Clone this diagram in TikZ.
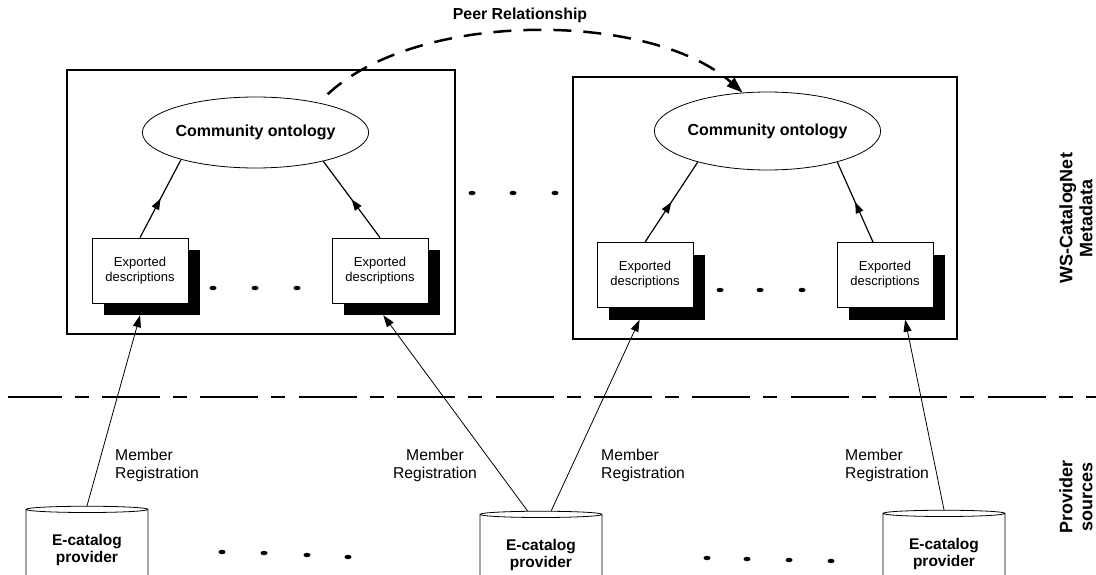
\documentclass[tikz,border=0pt]{standalone}
\usepackage{fontspec}
\setmainfont{Liberation Sans}
\usetikzlibrary{arrows.meta,calc,shapes.geometric,decorations.markings}
\newcommand{\descw}{96pt}
\newcommand{\desch}{65pt}
\newcommand{\shoff}{12}
\tikzset{
  groupframe/.style={draw,line width=2.5pt},
  community/.style={draw,ellipse,line width=0.8pt,inner sep=0pt,
    font=\fontsize{16}{19}\selectfont\bfseries},
  descbox/.style={draw,fill=white,line width=0.8pt,inner sep=0pt,
    minimum width=\descw,minimum height=\desch,align=center,
    font=\fontsize{13}{15}\selectfont},
  descshadow/.style={fill=black,inner sep=0pt,
    minimum width=\descw,minimum height=\desch},
  provider/.style={draw,cylinder,shape border rotate=90,aspect=0.09,
    line width=0.8pt,inner sep=0pt,minimum width=122pt,minimum height=84pt,
    align=center,font=\fontsize{15.5}{17}\selectfont\bfseries},
  memberlbl/.style={inner sep=0pt,font=\fontsize{15.7}{18}\selectfont},
  layerlbl/.style={rotate=90,inner sep=0pt,align=center,
    font=\fontsize{18}{20}\selectfont\bfseries},
  exportarrow/.style={line width=1.2pt,postaction={decorate},
    decoration={markings,mark=at position 0.5 with
      {\arrow{Triangle[length=11pt,width=8pt]}}}},
  regarrow/.style={line width=0.8pt,-{Triangle[length=12pt,width=8pt]}},
  peerarrow/.style={line width=2.5pt,dash pattern=on 18pt off 12pt,
    dash phase=18pt,-{Triangle[length=16pt,width=11pt]}},
  layersep/.style={line width=2.2pt,
    dash pattern=on 58pt off 13pt on 14pt off 13.4pt,dash phase=4.4pt}
}
\begin{document}
\begin{tikzpicture}[x=1pt,y=-1pt]
  \useasboundingbox (0,0) rectangle (1096,575);
  % peer groups
  \draw[groupframe] (67,70) rectangle (455,334);
  \draw[groupframe] (573,77) rectangle (957,339);
  \node[community,minimum width=193pt,minimum height=71pt] (ontoL)
    at (255.5,132.5) {Community ontology};
  \node[community,minimum width=195pt,minimum height=78pt] (ontoR)
    at (767.5,131) {Community ontology};
  \foreach \nm/\cx/\cy in {La/140/270.5,Lb/380/270.5,Ra/645/275,Rb/885/275}
  {
    \node[descshadow] (sh\nm) at (\cx+\shoff,\cy+\shoff) {};
    \node[descbox] (desc\nm) at (\cx,\cy) {Exported\\descriptions};
  }
  \draw[exportarrow] (descLa.north) -- (ontoL.200);
  \draw[exportarrow] (descLb.north) -- (ontoL.337);
  \draw[exportarrow] (descRa.north) -- (ontoR.204);
  \draw[exportarrow] ([xshift=-12pt]descRb.north) -- (ontoR.336);
  % peer relationship
  \node[font=\fontsize{15.9}{18}\selectfont\bfseries] (peerlbl)
    at (520,15) {Peer Relationship};
  \draw[peerarrow] (ontoL.25) .. controls +(85,-94) and +(-93,-83) .. (ontoR.123);
  % layer border
  \draw[layersep] (8,397) -- (1096,397);
  % providers
  \node[provider] (provL) at (87,550) {E-catalog\\provider};
  \node[provider] (provM) at (541,555) {E-catalog\\provider};
  \node[provider] (provR) at (944,554) {E-catalog\\provider};
  \draw[regarrow] (provL.90) -- (shLa.250);
  \draw[regarrow] (provM.107) -- (shLb.255);
  \draw[regarrow] (provM.77) -- (shRa.242);
  \draw[regarrow] (provR.90) -- (shRb.284);
  \node[memberlbl,anchor=west,align=left] (regL) at (115,465) {Member\\Registration};
  \node[memberlbl,align=center] (regML) at (435,465) {Member\\Registration};
  \node[memberlbl,anchor=west,align=left] (regMR) at (601,465) {Member\\Registration};
  \node[memberlbl,anchor=west,align=left] (regR) at (845,465) {Member\\Registration};
  % layer names
  \node[layerlbl] (metalbl) at (1076,218) {WS-CatalogNet\\Metadata};
  \node[layerlbl] (srclbl) at (1076,497) {Provider\\sources};
  % ellipsis dots
  \foreach \x/\y in {213/288,255/288,297/288,720/290,760/290,802/290,
    472/193,513/193,555/193,222/552,264/553,307/555,348/557,
    707/558,747/559,789/560,831/561}
    \fill (\x,\y) ellipse [x radius=3.5pt,y radius=2.2pt];
\end{tikzpicture}
\end{document}
